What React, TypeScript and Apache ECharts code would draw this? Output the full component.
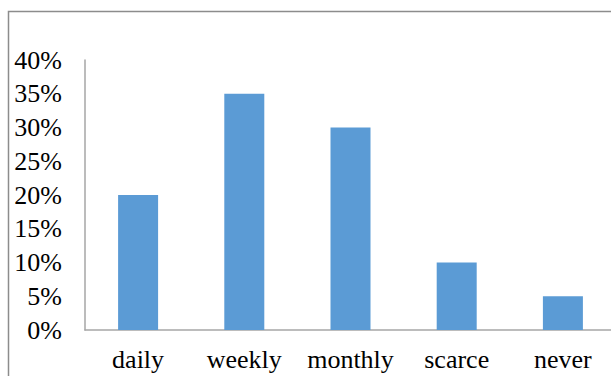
import React, { useEffect, useRef } from "react";
import * as echarts from "echarts";

const categories = ["daily", "weekly", "monthly", "scarce", "never"];
const shares = [20, 35, 30, 10, 5];
const yTicks = [0, 5, 10, 15, 20, 25, 30, 35, 40];

export default function App() {
  const ref = useRef<HTMLDivElement>(null);

  useEffect(() => {
    if (!ref.current) return;
    const chart = echarts.init(ref.current, undefined, { renderer: "svg" });
    const font = "'Liberation Serif', 'Times New Roman', serif";
    chart.setOption({
      animation: false,
      backgroundColor: "#ffffff",
      grid: { left: 85, top: 60, height: 270, width: 531, outerBoundsMode: "none" },
      xAxis: {
        type: "category",
        data: categories,
        axisLine: { show: true, lineStyle: { color: "#a6a6a6", width: 1.5 } },
        axisTick: { show: false },
        axisLabel: {
          color: "#000",
          fontFamily: font,
          fontSize: 26,
          margin: 16,
          interval: 0,
          hideOverlap: false,
        },
      },
      yAxis: {
        type: "value",
        min: yTicks[0],
        max: yTicks[yTicks.length - 1],
        interval: 5,
        axisLine: { show: true, lineStyle: { color: "#a6a6a6", width: 1.5 } },
        axisTick: { show: false },
        splitLine: { show: false },
        axisLabel: {
          color: "#000",
          fontFamily: font,
          fontSize: 26,
          margin: 23,
          formatter: (v: number) => `${v}%`,
        },
      },
      graphic: [
        {
          type: "polyline",
          shape: { points: [[8.5, 376], [8.5, 11.5], [611, 11.5]] },
          style: { stroke: "#8c8c8c", lineWidth: 1.5, fill: "none" },
          silent: true,
        },
      ],
      series: [
        {
          type: "bar",
          data: shares,
          barWidth: 40,
          itemStyle: { color: "#5b9bd5" },
        },
      ],
    });
    return () => chart.dispose();
  }, []);

  return (
    <div
      ref={ref}
      style={{ position: "fixed", left: 0, top: 0, width: 611, height: 376 }}
    />
  );
}
